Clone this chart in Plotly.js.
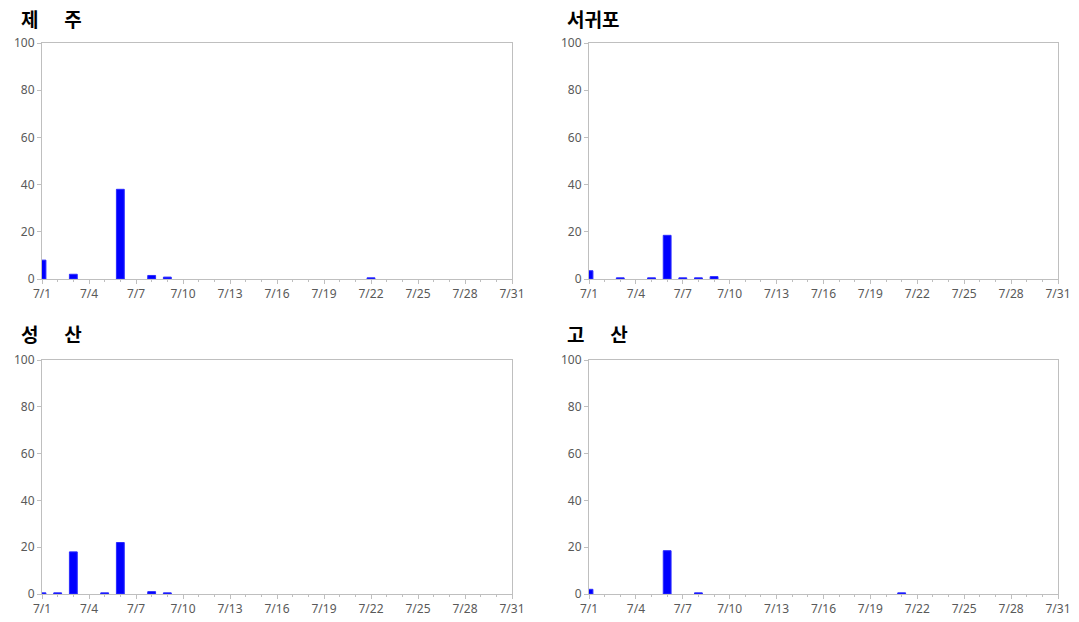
<!DOCTYPE html>
<html>
<head>
<meta charset="utf-8">
<script src="https://cdn.plot.ly/plotly-3.0.1.min.js"></script>
<style>
html,body{margin:0;padding:0;background:#fff;}
#chart{width:1079px;height:622px;}
</style>
</head>
<body>
<div id="chart"></div>
<script>
// Days of July (1..31)
const days = Array.from({length: 31}, (_, i) => i + 1);
const tickDays = [1, 4, 7, 10, 13, 16, 19, 22, 25, 28, 31];
const tickLabels = ["7/1", "7/4", "7/7", "7/10", "7/13", "7/16", "7/19", "7/22", "7/25", "7/28", "7/31"];

const sp = "\u00a0".repeat(6);
const stationNames = ["제" + sp + "주", "서귀포", "성" + sp + "산", "고" + sp + "산"];

// Daily values (index 0 = 7/1)
const jeju     = [8, 0, 2, 0, 0, 38, 0, 1.5, 0.8, 0, 0, 0, 0, 0, 0, 0, 0, 0, 0, 0, 0, 0.5, 0, 0, 0, 0, 0, 0, 0, 0, 0];
const seogwipo = [3.5, 0, 0.5, 0, 0.5, 18.5, 0.5, 0.5, 1, 0, 0, 0, 0, 0, 0, 0, 0, 0, 0, 0, 0, 0, 0, 0, 0, 0, 0, 0, 0, 0, 0];
const seongsan = [0.5, 0.5, 18, 0, 0.5, 22, 0, 1, 0.5, 0, 0, 0, 0, 0, 0, 0, 0, 0, 0, 0, 0, 0, 0, 0, 0, 0, 0, 0, 0, 0, 0];
const gosan    = [2, 0, 0, 0, 0, 18.5, 0, 0.5, 0, 0, 0, 0, 0, 0, 0, 0, 0, 0, 0, 0, 0.5, 0, 0, 0, 0, 0, 0, 0, 0, 0, 0];

const series = [jeju, seogwipo, seongsan, gosan];

const W = 1079, H = 622;
const xDomLeft = [42 / W, 512 / W];
const xDomRight = [589 / W, 1058 / W];
const yDomTop = [1 - 279 / H, 1 - 43 / H];
const yDomBot = [1 - 594 / H, 1 - 360 / H];

const panels = [
  {xd: xDomLeft, yd: yDomTop, tx: 19, ty: 18},
  {xd: xDomRight, yd: yDomTop, tx: 565, ty: 18},
  {xd: xDomLeft, yd: yDomBot, tx: 19, ty: 333},
  {xd: xDomRight, yd: yDomBot, tx: 565, ty: 333}
];

const tickFont = {family: "Noto Sans, Liberation Sans, sans-serif", size: 12, color: "#595959"};
const lineCol = "#BFBFBF";

const data = [];
const layout = {
  width: W, height: H,
  margin: {l: 0, r: 0, t: 0, b: 0},
  paper_bgcolor: "#ffffff",
  plot_bgcolor: "#ffffff",
  showlegend: false,
  bargap: 0,
  annotations: []
};

panels.forEach((p, i) => {
  const n = i + 1;
  const xa = n === 1 ? "x" : "x" + n;
  const ya = n === 1 ? "y" : "y" + n;
  data.push({
    type: "bar",
    x: days,
    // zero days draw nothing (avoid outline slivers)
    y: series[i].map(v => (v === 0 ? null : v)),
    width: 0.5,
    xaxis: xa,
    yaxis: ya,
    marker: {color: "#0000FF", line: {width: 1, color: "#2A2AFF"}},
    hoverinfo: "x+y"
  });
  layout[n === 1 ? "xaxis" : "xaxis" + n] = {
    domain: p.xd,
    anchor: ya,
    range: [1, 31],
    tickmode: "array",
    tickvals: tickDays,
    ticktext: tickLabels,
    ticks: "outside",
    ticklen: 4,
    tickcolor: lineCol,
    tickfont: tickFont,
    showline: true,
    linecolor: lineCol,
    linewidth: 1,
    mirror: true,
    showgrid: false,
    zeroline: false,
    minor: {tickmode: "linear", tick0: 1, dtick: 1, ticks: "outside", ticklen: 2, tickcolor: lineCol, showgrid: false},
    fixedrange: true
  };
  layout[n === 1 ? "yaxis" : "yaxis" + n] = {
    domain: p.yd,
    anchor: xa,
    range: [0, 100],
    tickmode: "linear",
    tick0: 0,
    dtick: 20,
    ticks: "outside",
    ticklen: 4,
    tickcolor: lineCol,
    tickfont: tickFont,
    showline: true,
    linecolor: lineCol,
    linewidth: 1,
    mirror: true,
    showgrid: false,
    zeroline: false,
    fixedrange: true
  };
  layout.annotations.push({
    text: "<b>" + stationNames[i] + "</b>",
    xref: "paper", yref: "paper",
    x: p.tx / W, y: 1 - p.ty / H,
    xanchor: "left", yanchor: "middle",
    showarrow: false,
    font: {family: "Noto Sans CJK KR, sans-serif", size: 19, color: "#000000"}
  });
});

Plotly.newPlot("chart", data, layout, {displayModeBar: false, staticPlot: true});
</script>
</body>
</html>
